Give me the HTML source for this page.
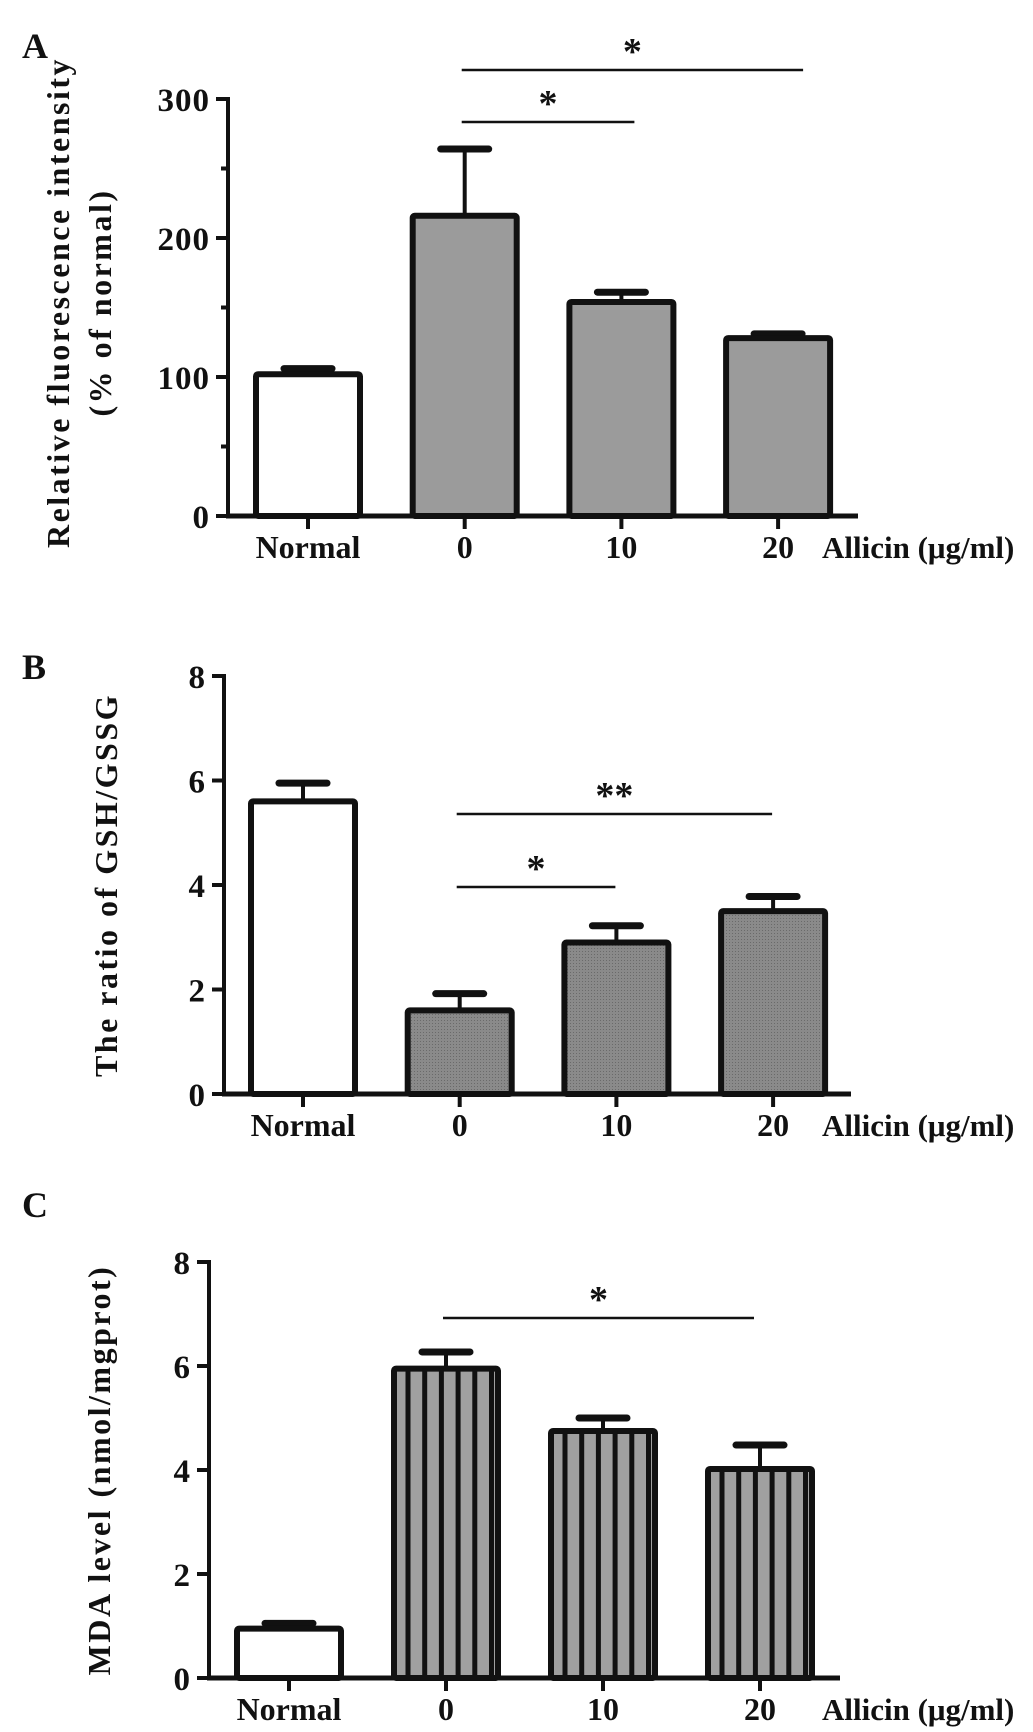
<!DOCTYPE html>
<html><head><meta charset="utf-8"><title>Allicin bar charts</title>
<style>
html,body{margin:0;padding:0;background:#fff;}
svg{display:block;}
text{font-family:"Liberation Serif",serif;font-weight:bold;fill:#111;}
</style></head>
<body>
<svg id="fig" width="1033" height="1732" viewBox="0 0 1033 1732" xmlns="http://www.w3.org/2000/svg">
<defs>
<pattern id="dots" width="3" height="3" patternUnits="userSpaceOnUse">
<rect width="3" height="3" fill="#8a8a8a"/><rect width="1" height="1" fill="#6a6a6a"/>
</pattern>
</defs>
</svg>
<script>
const categories = ["Normal", "0", "10", "20"];
const valuesA = [102, 216, 154, 128];
const errorsA = [106, 264, 161, 131];
const ticksA = [0, 100, 200, 300];
const minorA = [50, 150, 250];
const valuesB = [5.6, 1.6, 2.9, 3.5];
const errorsB = [5.95, 1.92, 3.22, 3.78];
const ticksB = [0, 2, 4, 6, 8];
const valuesC = [0.95, 5.95, 4.75, 4.02];
const errorsC = [1.05, 6.27, 5.0, 4.48];
const ticksC = [0, 2, 4, 6, 8];
const sigA = [[1, 3, "*"], [1, 2, "*"]];
const sigB = [[1, 3, "**"], [1, 2, "*"]];
const sigC = [[1, 3, "*"]];

const svg = document.getElementById('fig');
const NS = "http://www.w3.org/2000/svg";
function mk(tag, attrs, parent) {
  const e = document.createElementNS(NS, tag);
  for (const k in attrs) e.setAttribute(k, attrs[k]);
  (parent || svg).appendChild(e);
  return e;
}

function panel(cfg) {
  const g = mk('g', {});
  
  
  const y = v => cfg.y0 - (v / cfg.max) * (cfg.y0 - cfg.yTop);
  const x = i => cfg.cx0 + i * cfg.step;
  const L = mk('text', {x: 22, y: cfg.letterY, 'font-size': 36}, g);
  L.textContent = cfg.letter;
  
  
  cfg.values.forEach((v, i) => {
    const bx = x(i) - cfg.barW / 2, top = y(v), eTop = y(cfg.errors[i]);
    const st = mk('line', {x1: x(i), x2: x(i), y1: top, y2: eTop, stroke: '#111', 'stroke-width': 4}, g);
    
    
    const cap = mk('line', {x1: x(i) - 24, x2: x(i) + 24, y1: eTop, y2: eTop, stroke: '#111', 'stroke-width': 7, 'stroke-linecap': 'round'}, g);
    
    
    const fill = i === 0 ? '#fff' : cfg.fill;
    const r = mk('rect', {x: bx, y: top, width: cfg.barW, height: cfg.y0 - top, fill: fill, stroke: '#111', 'stroke-width': 6, rx: 2}, g);
    
    
    if (cfg.stripes && i > 0) {
      for (let s = 0; s < 6; s++) {
        const sx = bx + 14 + s * 16.7;
        const sl = mk('line', {x1: sx, x2: sx, y1: top, y2: cfg.y0, stroke: '#111', 'stroke-width': 5}, g);
        
        
      }
    }
    const tk = mk('line', {x1: x(i), x2: x(i), y1: cfg.y0, y2: cfg.y0 + 13, stroke: '#111', 'stroke-width': 4}, g);
    
    
    const lb = mk('text', {x: x(i), y: cfg.y0 + 42, 'font-size': 32, 'text-anchor': 'middle'}, g);
    lb.textContent = categories[i];
    
    
  });
  const al = mk('text', {x: 822, y: cfg.y0 + 42, 'font-size': 31}, g);
  al.textContent = 'Allicin (μg/ml)';
  
  
  const ya = mk('line', {x1: cfg.ax, x2: cfg.ax, y1: cfg.yTop - 2, y2: cfg.y0 + 2, stroke: '#111', 'stroke-width': 4}, g);
  
  
  const xa = mk('line', {x1: cfg.ax - 2, x2: cfg.xEnd, y1: cfg.y0, y2: cfg.y0, stroke: '#111', 'stroke-width': 5}, g);
  
  
  cfg.ticks.forEach(t => {
    const l = mk('line', {x1: cfg.ax - 12, x2: cfg.ax, y1: y(t), y2: y(t), stroke: '#111', 'stroke-width': 4}, g);
    
    
    const tx = mk('text', {x: cfg.ax - 18, y: y(t) + 12, 'font-size': 33, 'text-anchor': 'end', 'letter-spacing': 1}, g);
    tx.textContent = t;
    
    
  });
  (cfg.minor || []).forEach(t => {
    const l = mk('line', {x1: cfg.ax - 7, x2: cfg.ax, y1: y(t), y2: y(t), stroke: '#111', 'stroke-width': 4}, g);
    
    
  });
  const midY = (cfg.y0 + cfg.yTop) / 2 + cfg.titleDy;
  cfg.titles.forEach((t, k) => {
    const tx = mk('text', {x: 0, y: 0, 'font-size': 32, 'text-anchor': 'middle', 'letter-spacing': 2.5,
      transform: 'translate(' + (cfg.titleX[k] + 11) + ',' + midY + ') rotate(-90)'}, g);
    tx.textContent = t;
    
    
  });
  cfg.sig.forEach((s, k) => {
    const ly = cfg.sigY[k];
    const x1 = x(s[0]) - 3, x2 = x(s[1]) + cfg.sigExt[k];
    const l = mk('line', {x1: x1, x2: x2, y1: ly, y2: ly, stroke: '#111', 'stroke-width': 2.5}, g);
    
    
    const st = mk('text', {x: (x1 + x2) / 2, y: ly - 6, 'font-size': 38, 'text-anchor': 'middle'}, g);
    st.textContent = s[2];
    
    
  });
}

panel({name: 'panel-a', letter: 'A', letterY: 58, values: valuesA, errors: errorsA, ticks: ticksA, minor: minorA,
  max: 300, y0: 516, yTop: 99, ax: 228, xEnd: 858, cx0: 308, step: 156.7, barW: 104, fill: '#9b9b9b',
  titles: ['Relative fluorescence intensity', '(% of normal)'], titleX: [58, 100], titleDy: -5,
  sig: sigA, sigY: [70, 122], sigExt: [25, 13]});
panel({name: 'panel-b', letter: 'B', letterY: 679, values: valuesB, errors: errorsB, ticks: ticksB,
  max: 8, y0: 1094, yTop: 676, ax: 224, xEnd: 851, cx0: 303, step: 156.7, barW: 104, fill: 'url(#dots)',
  titles: ['The ratio of GSH/GSSG'], titleX: [106], titleDy: 0,
  sig: sigB, sigY: [814, 887], sigExt: [-1, -1]});
panel({name: 'panel-c', letter: 'C', letterY: 1217, values: valuesC, errors: errorsC, ticks: ticksC, stripes: true,
  max: 8, y0: 1678, yTop: 1262, ax: 209, xEnd: 840, cx0: 289, step: 157, barW: 104, fill: '#a0a0a0',
  titles: ['MDA level (nmol/mgprot)'], titleX: [99], titleDy: 0,
  sig: sigC, sigY: [1318], sigExt: [-6]});
</script>
</body></html>
